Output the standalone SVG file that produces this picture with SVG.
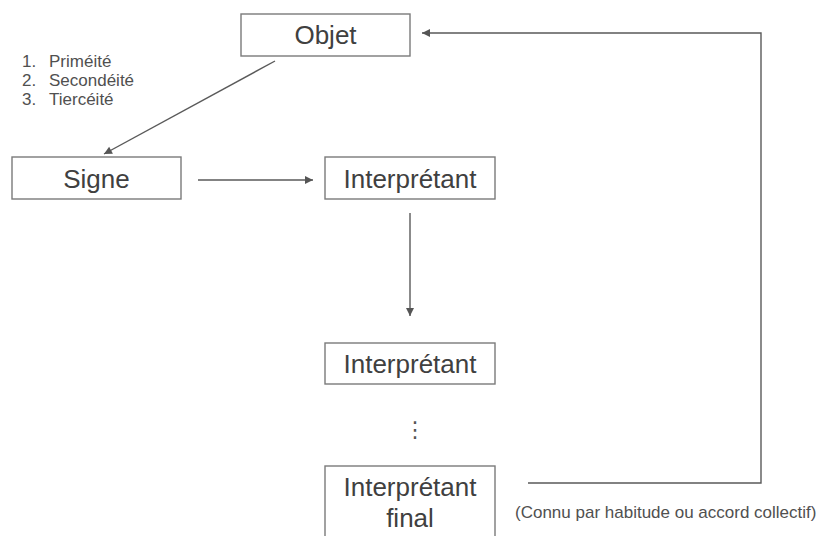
<svg xmlns="http://www.w3.org/2000/svg" width="822" height="536" viewBox="0 0 822 536">
<style>
.box{fill:#fff;stroke:#7a7a7a;stroke-width:1.4}
.lbl{font-family:"Liberation Sans",Arial,sans-serif;font-size:26px;fill:#404040;text-anchor:middle}
.sm{font-family:"Liberation Sans",Arial,sans-serif;font-size:17px;fill:#505050}
.con{fill:none;stroke:#5a5a5a;stroke-width:1.4}
</style>
<defs>
<marker id="ah" viewBox="0 0 10 10" refX="10" refY="5" markerWidth="10" markerHeight="8" markerUnits="userSpaceOnUse" orient="auto">
<path d="M0,0 L10,5 L0,10 z" fill="#555"/>
</marker>
</defs>
<rect width="822" height="536" fill="#fff"/>
<g id="connectors">
<line class="con" x1="275" y1="61" x2="104" y2="154" marker-end="url(#ah)"/>
<line class="con" x1="198" y1="180" x2="313" y2="180" marker-end="url(#ah)"/>
<line class="con" x1="410" y1="213" x2="410" y2="316" marker-end="url(#ah)"/>
<polyline class="con" points="528,483 761,483 761,33 422,33" marker-end="url(#ah)"/>
</g>
<g id="objet">
<rect class="box" x="241" y="14" width="169" height="42"/>
<text class="lbl" x="325.5" y="44">Objet</text>
</g>
<g id="signe">
<rect class="box" x="12" y="157" width="169" height="42"/>
<text class="lbl" x="96.5" y="188">Signe</text>
</g>
<g id="interpretant1">
<rect class="box" x="325" y="157" width="170" height="42"/>
<text class="lbl" x="410" y="188">Interprétant</text>
</g>
<g id="interpretant2">
<rect class="box" x="325" y="343" width="170" height="41"/>
<text class="lbl" x="410" y="373">Interprétant</text>
</g>
<g id="interpretant-final">
<rect class="box" x="325" y="466" width="170" height="80"/>
<text class="lbl" x="410" y="496">Interprétant</text>
<text class="lbl" x="410" y="527">final</text>
</g>
<g id="categories">
<text class="sm" x="22" y="67">1.</text>
<text class="sm" x="49" y="67">Priméité</text>
<text class="sm" x="22" y="86">2.</text>
<text class="sm" x="49" y="86">Secondéité</text>
<text class="sm" x="22" y="105">3.</text>
<text class="sm" x="49" y="105">Tiercéité</text>
</g>
<g id="ellipsis">
<text x="415" y="437" font-family="'DejaVu Sans',sans-serif" font-size="22" fill="#555" text-anchor="middle">⋮</text>
</g>
<g id="caption">
<text class="sm" x="515" y="518">(Connu par habitude ou accord collectif)</text>
</g>
</svg>
